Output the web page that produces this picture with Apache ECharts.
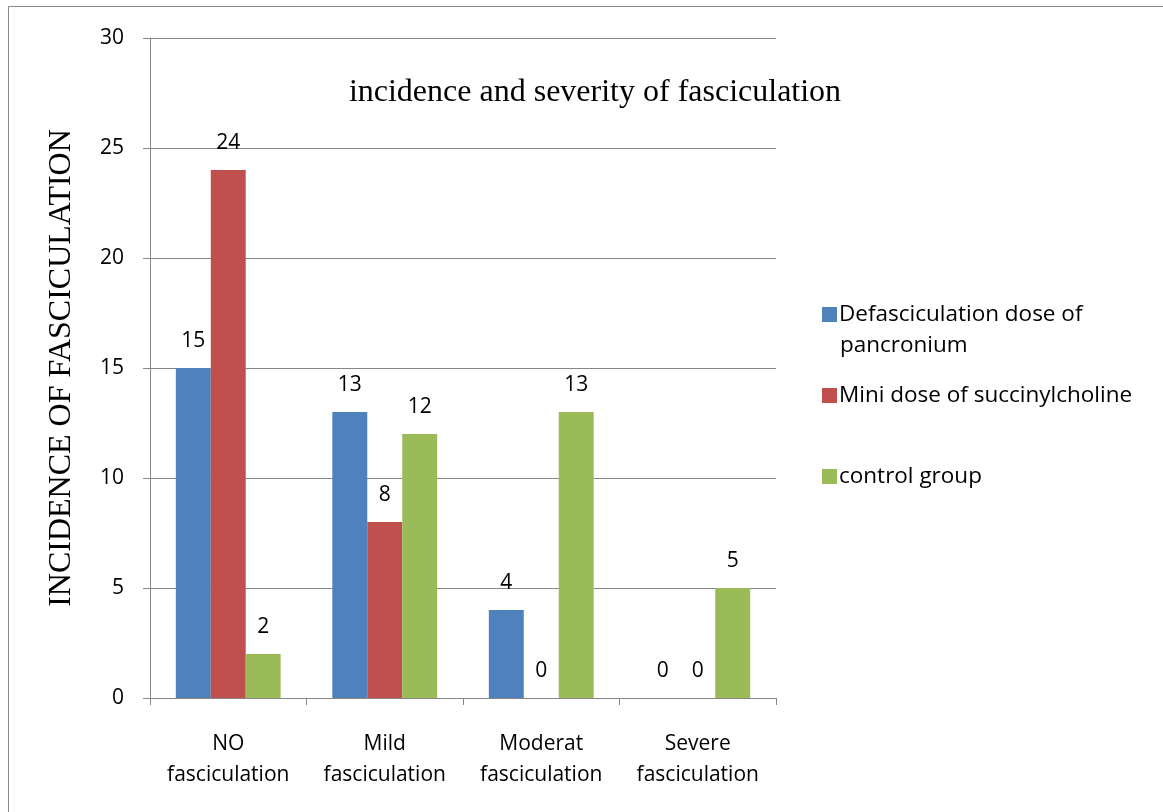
<!DOCTYPE html>
<html>
<head>
<meta charset="utf-8">
<script src="https://cdn.jsdelivr.net/npm/echarts@6/dist/echarts.min.js"></script>
<style>
  html, body { margin: 0; padding: 0; background: #fff; }
  #main { width: 1163px; height: 812px; }
</style>
</head>
<body>
<div id="main"></div>
<script>
var categories = ['NO\nfasciculation', 'Mild\nfasciculation', 'Moderat\nfasciculation', 'Severe\nfasciculation'];
var pancronium = [15, 13, 4, 0];
var succinylcholine = [24, 8, 0, 0];
var control = [2, 12, 13, 5];
var seriesNames = ['Defasciculation dose of pancronium', 'Mini dose of succinylcholine', 'control group'];
var colors = ['#4F81BD', '#C0504D', '#9BBB59'];

var labelFont = '"Open Sans", "Liberation Sans", sans-serif';
var serifFont = '"Liberation Serif", "Times New Roman", serif';
var myChart = echarts.init(document.getElementById('main'));

function barSeries(i, values) {
    return {
        name: seriesNames[i],
        type: 'bar',
        data: values,
        barGap: '0%',
        barCategoryGap: '33%',
        itemStyle: { color: colors[i] },
        label: {
            show: true,
            position: 'top',
            distance: 16,
            color: '#000',
            fontSize: 21,
            fontFamily: labelFont
        }
    };
}

// one legend per item, Excel puts them at uneven heights
function oneLegend(i, top) {
    return {
        data: [seriesNames[i]],
        left: 817,
        top: top,
        orient: 'vertical',
        icon: 'rect',
        itemWidth: 15,
        itemHeight: 15,
        itemGap: 7,
        selectedMode: false,
        formatter: function (name) {
            return name === seriesNames[0] ? 'Defasciculation dose of' : name;
        },
        textStyle: { color: '#000', fontSize: 22.5, fontFamily: labelFont, padding: [0, 0, 0, -3] }
    };
}

option = {
    animation: false,
    title: {
        text: 'incidence and severity of fasciculation',
        left: 590,
        top: 72,
        textAlign: 'center',
        textStyle: {
            fontFamily: serifFont,
            fontWeight: 'normal',
            fontSize: 32,
            color: '#000'
        }
    },
    legend: [oneLegend(0, 298), oneLegend(1, 379), oneLegend(2, 460)],
    graphic: [
        {
            type: 'rect',
            shape: { x: 8.5, y: 6.5, width: 1300, height: 1000 },
            style: { fill: 'none', stroke: '#888', lineWidth: 1 },
            silent: true
        },
        {
            type: 'text',
            left: 840,
            top: 334,
            style: { text: 'pancronium', fontSize: 22.5, fontFamily: labelFont, fill: '#000' }
        }
    ],
    grid: { left: 150, right: 387, top: 38, bottom: 114 },
    xAxis: {
        type: 'category',
        data: categories,
        axisLine: { lineStyle: { color: '#868686', width: 1 } },
        axisTick: { show: true, length: 7, lineStyle: { color: '#868686' } },
        axisLabel: {
            color: '#000',
            fontSize: 21,
            fontFamily: labelFont,
            lineHeight: 31,
            margin: 31,
            interval: 0
        }
    },
    yAxis: {
        type: 'value',
        min: 0,
        max: 30,
        interval: 5,
        name: 'INCIDENCE OF FASCICULATION',
        nameLocation: 'middle',
        nameGap: 72,
        nameRotate: 90,
        nameTextStyle: {
            fontFamily: serifFont,
            fontSize: 32,
            color: '#000'
        },
        axisLine: { show: true, lineStyle: { color: '#868686', width: 1 } },
        axisTick: { show: true, length: 7, lineStyle: { color: '#868686' } },
        splitLine: { lineStyle: { color: '#868686', width: 1 } },
        axisLabel: { color: '#000', fontSize: 21, fontFamily: labelFont, margin: 26 }
    },
    series: [
        barSeries(0, pancronium),
        barSeries(1, succinylcholine),
        barSeries(2, control)
    ]
};
myChart.setOption(option, true);
</script>
</body>
</html>
